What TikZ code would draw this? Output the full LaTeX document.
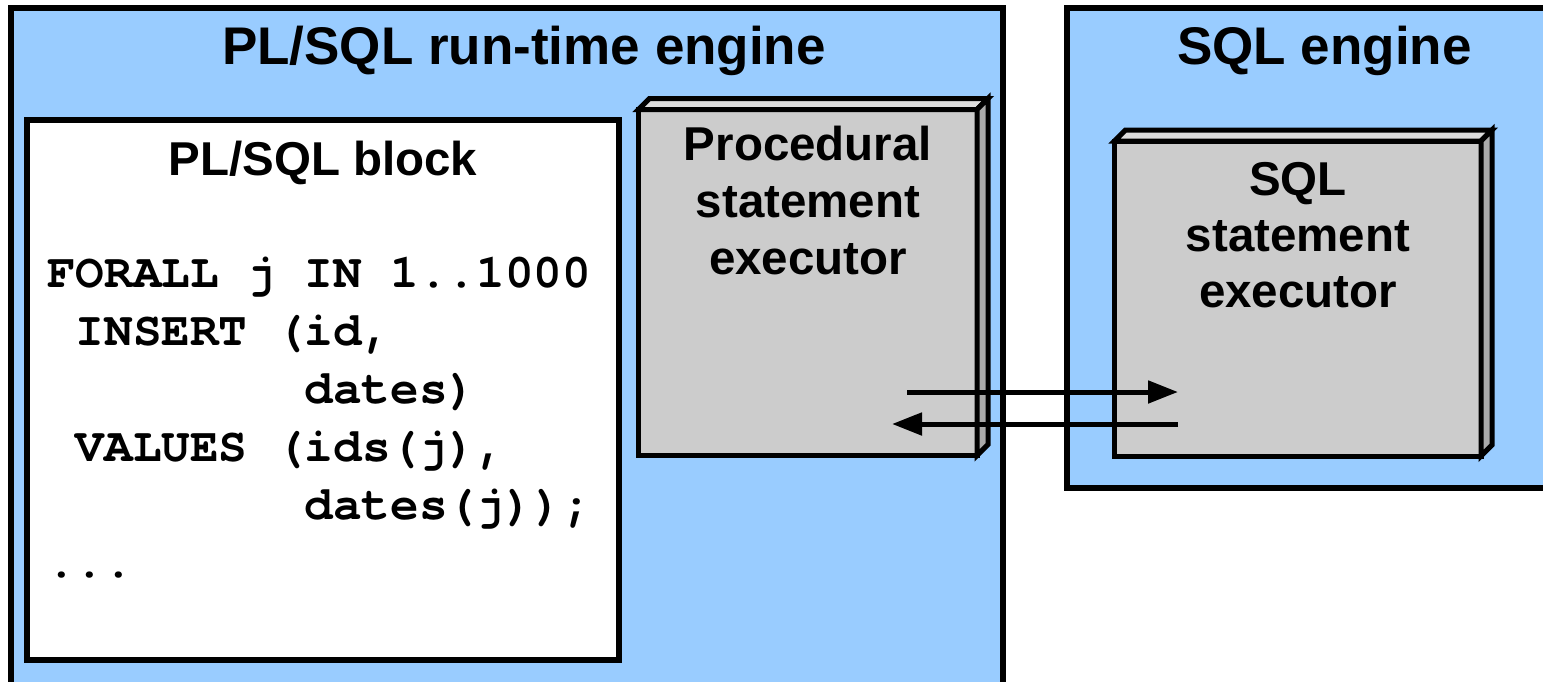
\documentclass[tikz,border=0pt]{standalone}
\usepackage{fontspec}
\setmainfont{Liberation Sans}
\newfontfamily\codefont{texgyrecursor}[Extension=.otf, UprightFont=*-regular, BoldFont=*-bold]
\usetikzlibrary{arrows.meta,calc}

\definecolor{engineblue}{HTML}{99CCFF}
\definecolor{execgray}{HTML}{CCCCCC}
\definecolor{topgray}{HTML}{DDDDDD}
\definecolor{sidegray}{HTML}{AAAAAA}

\tikzset{
  engine/.style={draw=black, line width=6pt, fill=engineblue, inner sep=0pt, outer sep=0pt},
  blockbox/.style={draw=black, line width=6pt, fill=white, inner sep=0pt, outer sep=0pt},
  execface/.style={draw=black, line width=5pt, fill=execgray, inner sep=0pt, outer sep=0pt},
  depthface/.style={draw=black, line width=5pt, line join=miter},
  titletext/.style={font=\fontsize{53}{60}\selectfont\bfseries, anchor=base, inner sep=0pt},
  lbl/.style={font=\fontsize{47.5}{57}\selectfont\bfseries, anchor=base, inner sep=0pt},
  codeline/.style={font=\fontsize{47.7}{58}\selectfont\codefont\bfseries, anchor=base west, inner sep=0pt},
  flow/.style={line width=5pt, -{Triangle[length=30pt,width=22pt]}},
}

\begin{document}
\begin{tikzpicture}[x=1pt, y=-1pt]
  \useasboundingbox (0,0) rectangle (1543,681);
  \clip (0,0) rectangle (1543,681);

  % engines
  \node[engine, minimum width=992.5pt, minimum height=692pt] (rte) at (506.75,354) {};
  \node[engine, minimum width=493pt, minimum height=480pt] (sqleng) at (1313.5,248) {};
  \node[titletext] (rtetitle) at (524,64) {PL/SQL run-time engine};
  \node[titletext] (sqltitle) at (1324.5,64) {SQL engine};

  % PL/SQL block
  \node[blockbox, minimum width=592pt, minimum height=540pt] (block) at (323,390) {};
  \node[lbl] (blocktitle) at (323,175) {PL/SQL block};
  \node[codeline] (c1) at (47,287) {FORALL j IN 1..1000};
  \node[codeline] (c2) at (75.6,345) {INSERT (id,};
  \node[codeline] (c3) at (304.4,403) {dates)};
  \node[codeline] (c4) at (75.6,461) {VALUES (ids(j),};
  \node[codeline] (c5) at (304.4,519) {dates(j));};
  \node[codeline] (c6) at (47,577) {...};

  % procedural statement executor (3-D box)
  \node[execface, minimum width=338.5pt, minimum height=346pt] (proc) at (807.75,282.5) {};
  \draw[depthface, fill=topgray] (proc.north west) -- ++(11,-11)
    -- ($(proc.north east)+(11,-11)$) -- (proc.north east) -- cycle;
  \draw[depthface, fill=sidegray] (proc.north east) -- ++(11,-11)
    -- ($(proc.south east)+(11,-11)$) -- (proc.south east) -- cycle;
  \node[lbl] (p1) at (808,160) {Procedural};
  \node[lbl] (p2) at (808,217) {statement};
  \node[lbl] (p3) at (808,274) {executor};

  % SQL statement executor (3-D box)
  \node[execface, minimum width=366.5pt, minimum height=315pt] (sqlx) at (1297.75,298.5) {};
  \draw[depthface, fill=topgray] (sqlx.north west) -- ++(11,-11)
    -- ($(sqlx.north east)+(11,-11)$) -- (sqlx.north east) -- cycle;
  \draw[depthface, fill=sidegray] (sqlx.north east) -- ++(11,-11)
    -- ($(sqlx.south east)+(11,-11)$) -- (sqlx.south east) -- cycle;
  \node[lbl] (s1) at (1298,195) {SQL};
  \node[lbl] (s2) at (1298,251.5) {statement};
  \node[lbl] (s3) at (1298,307) {executor};

  % context switches between the two executors
  \coordinate (callout) at (907,392);
  \coordinate (callin) at (1178,392);
  \coordinate (retout) at (1178,424);
  \coordinate (retin) at (892,424);
  \draw[flow] (callout) -- (callin);
  \draw[flow] (retout) -- (retin);
\end{tikzpicture}
\end{document}
